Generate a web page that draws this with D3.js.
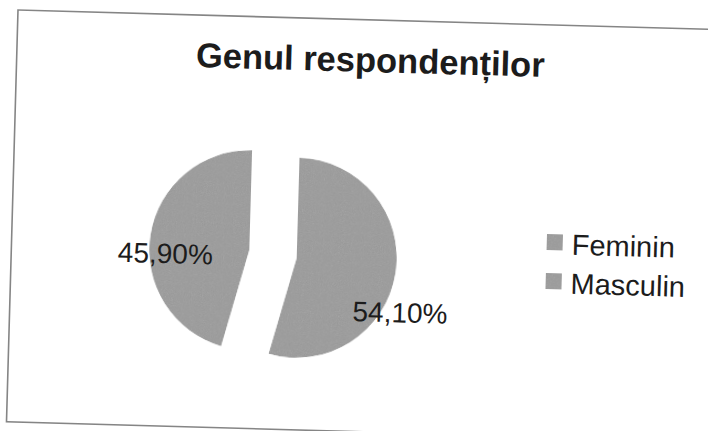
<!DOCTYPE html>
<html>
<head>
<meta charset="utf-8">
<script src="https://cdn.jsdelivr.net/npm/d3@7"></script>
<style>
  body { margin: 0; background: #fff; }
  svg { display: block; font-family: "Liberation Sans", Arial, sans-serif; }
</style>
</head>
<body>
<div class="canvas"></div>
<script>
// data
const categories = ["Feminin", "Masculin"];
const values = [54.1, 45.9];
const labels = ["54,10%", "45,90%"];
const title = "Genul respondenților";

const W = 708, H = 431;
// the scan is tilted a little clockwise
const tilt = 1.6, cx = W / 2, cy = H / 2;
const rad = tilt * Math.PI / 180;
// screen point -> point in the tilted group
const inv = (x, y) => {
  const dx = x - cx, dy = y - cy;
  return [cx + dx * Math.cos(rad) + dy * Math.sin(rad),
          cy - dx * Math.sin(rad) + dy * Math.cos(rad)];
};

const svg = d3.select(".canvas").append("svg")
    .attr("width", W)
    .attr("height", H);

// grain, so the grey looks like the scan
const f = svg.append("defs").append("filter")
    .attr("id", "grain")
    .attr("x", 0).attr("y", 0).attr("width", 1).attr("height", 1);
f.append("feTurbulence")
    .attr("type", "fractalNoise")
    .attr("baseFrequency", 0.9)
    .attr("numOctaves", 2)
    .attr("seed", 3)
    .attr("result", "noise");
f.append("feColorMatrix")
    .attr("in", "noise")
    .attr("type", "saturate")
    .attr("values", 0)
    .attr("result", "gnoise");
f.append("feComposite")
    .attr("in", "SourceGraphic")
    .attr("in2", "gnoise")
    .attr("operator", "arithmetic")
    .attr("k1", 0).attr("k2", 1).attr("k3", 0.16).attr("k4", -0.08)
    .attr("result", "mix");
f.append("feComposite")
    .attr("in", "mix")
    .attr("in2", "SourceGraphic")
    .attr("operator", "in");

const g = svg.append("g")
    .attr("transform", `rotate(${tilt},${cx},${cy})`);

// frame
const tl = inv(18, 10);
g.append("rect")
    .attr("x", tl[0]).attr("y", tl[1])
    .attr("width", 730).attr("height", 412)
    .attr("fill", "none")
    .attr("stroke", "#858585")
    .attr("stroke-width", 1.6);

// title
const tp = inv(370, 72);
g.append("text")
    .attr("x", tp[0]).attr("y", tp[1])
    .attr("text-anchor", "middle")
    .attr("font-size", 34.5)
    .attr("font-weight", "bold")
    .attr("fill", "#1c1c1c")
    .text(title);

// pie
const pc = inv(273, 254);
const r = 100, explode = 24;
const pie = d3.pie().sort(null).value(d => d);
const arc = d3.arc().innerRadius(0).outerRadius(r);
const arcs = pie(values);

const pieG = g.append("g").attr("transform", `translate(${pc[0]},${pc[1]})`);

const mid = d => (d.startAngle + d.endAngle) / 2;

pieG.selectAll("path")
    .data(arcs)
    .enter().append("path")
    .attr("d", arc)
    .attr("fill", "#a4a4a4")
    .attr("filter", "url(#grain)")
    .attr("transform", d => {
        const a = mid(d);
        return `translate(${Math.sin(a) * explode},${-Math.cos(a) * explode})`;
    });

// data labels (Excel "best fit" spots, relative to each slice)
const labelShift = [19, -11];
const labelRad = [117, 84];
pieG.selectAll("text.lbl")
    .data(arcs)
    .enter().append("text")
    .attr("class", "lbl")
    .attr("x", (d, i) => {
        const a = mid(d);
        const b = a + labelShift[i] * Math.PI / 180;
        return Math.sin(a) * explode + Math.sin(b) * labelRad[i];
    })
    .attr("y", (d, i) => {
        const a = mid(d);
        const b = a + labelShift[i] * Math.PI / 180;
        return -Math.cos(a) * explode - Math.cos(b) * labelRad[i];
    })
    .attr("dy", "0.35em")
    .attr("text-anchor", "middle")
    .attr("font-size", 28)
    .attr("fill", "#1c1c1c")
    .text((d, i) => labels[i]);

// legend
const lp = inv(547, 234);
const legend = g.append("g").attr("transform", `translate(${lp[0]},${lp[1]})`);
const item = legend.selectAll("g")
    .data(categories)
    .enter().append("g")
    .attr("transform", (d, i) => `translate(0,${i * 39})`);

item.append("rect")
    .attr("width", 16).attr("height", 16)
    .attr("fill", "#a4a4a4")
    .attr("filter", "url(#grain)");

item.append("text")
    .attr("x", 25).attr("y", 20)
    .attr("font-size", 29)
    .attr("fill", "#1c1c1c")
    .text(d => d);
</script>
</body>
</html>
